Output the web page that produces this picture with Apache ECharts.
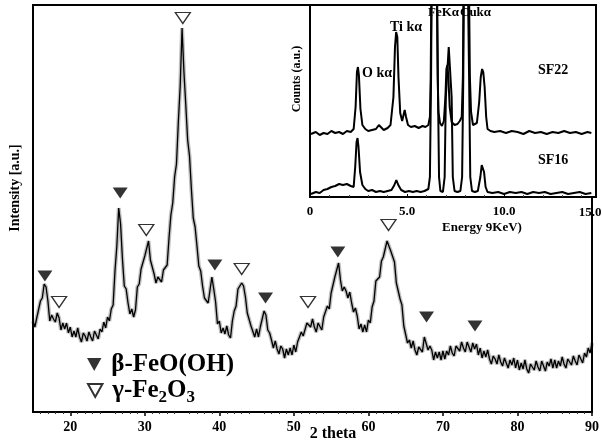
<!DOCTYPE html>
<html>
<head>
<meta charset="utf-8">
<script src="https://cdn.jsdelivr.net/npm/echarts@6/dist/echarts.min.js"></script>
<style>html,body{margin:0;padding:0;background:#fff}#c{width:602px;height:443px}</style>
</head>
<body>
<div id="c"></div>
<script>
// ---- Main XRD pattern (2 theta scan, 0.25 deg step starting at 15 deg) ----
const twoThetaStart = 15;
const twoThetaStep = 0.25;
const xrdIntensity = [
91,85,94,95,111,114,128,125,111,91,97,93,90,99,94,82,89,83,89,79,
85,75,81,75,84,75,70,79,76,71,80,75,71,81,79,73,83,80,90,84,
95,91,103,107,141,166,204,188,153,126,123,109,98,103,95,102,125,128,143,141,
156,155,171,152,151,138,129,135,134,130,142,142,147,174,197,209,235,248,290,326,
384,340,307,272,256,223,194,185,166,146,141,126,114,116,109,109,135,123,110,88,
91,79,84,78,86,77,74,91,101,106,123,123,129,126,115,99,100,86,86,75,
83,75,85,85,101,97,82,79,72,64,71,63,58,66,63,54,63,57,64,57,
67,60,70,68,80,76,76,89,89,85,93,85,80,89,87,82,95,94,106,103,
119,119,135,142,149,132,121,125,121,114,120,109,100,104,96,83,88,80,87,80,
92,89,105,111,131,131,135,151,155,156,171,173,161,162,150,129,128,113,107,86,
84,69,72,64,71,62,57,65,63,60,75,76,62,66,62,52,60,54,60,52,
61,53,61,57,66,59,56,66,65,61,70,64,60,70,68,60,69,63,68,57,
64,54,61,55,62,53,48,56,53,48,57,50,46,54,52,44,52,47,54,44,
52,42,49,43,52,43,39,48,46,42,51,45,41,51,49,41,50,46,53,44,
52,44,51,46,55,48,44,53,52,47,56,51,47,57,56,49,59,55,64,59,
69
];
const xTickLabels = [20, 30, 40, 50, 60, 70, 80, 90];

// Peak markers
const betaPeaks2Theta = [16.6, 26.7, 39.4, 46.2, 55.9, 67.8, 74.3];
const betaMarkerY     = [136, 219, 147, 114, 160, 95, 86];
const gammaPeaks2Theta = [18.5, 30.2, 35.1, 43.0, 51.9, 62.7];
const gammaMarkerY     = [110, 182, 394, 143, 110, 187];

// ---- Inset EDX spectra ----
const sf22Energy = [0.05,0.3,0.5,0.7,0.9,1.1,1.3,1.5,1.7,1.9,2.1,2.25,2.35,2.42,2.47,2.52,2.6,2.7,2.85,3.0,3.2,3.4,3.55,3.65,3.8,4.0,4.15,4.3,4.38,4.44,4.5,4.56,4.65,4.75,4.88,4.95,5.05,5.2,5.4,5.6,5.8,5.95,6.1,6.18,6.22,6.3,6.4,6.5,6.58,6.62,6.7,6.8,6.9,6.98,7.03,7.08,7.13,7.2,7.3,7.45,7.6,7.72,7.82,7.88,7.95,8.05,8.15,8.24,8.3,8.4,8.5,8.6,8.72,8.8,8.87,8.93,9.0,9.08,9.15,9.3,9.5,9.8,10.1,10.4,10.7,11.0,11.3,11.6,11.9,12.2,12.5,12.8,13.1,13.4,13.7,14.0,14.3,14.5];
const sf22Counts = [63,65,62,64,63,66,64,65,63,66,65,68,90,125,130,122,88,72,68,66,67,68,72,70,67,69,72,100,150,165,160,120,84,76,87,80,72,70,71,69,71,70,72,80,120,300,420,300,120,85,74,71,76,100,128,132,120,90,75,72,73,76,80,120,300,420,300,120,85,72,70,74,95,120,128,125,110,80,68,66,65,66,64,66,65,63,66,64,65,63,65,64,66,64,65,63,65,64];
const sf16Energy = [0.05,0.3,0.5,0.7,0.9,1.1,1.3,1.5,1.7,1.9,2.1,2.25,2.33,2.4,2.45,2.5,2.58,2.7,2.85,3.0,3.2,3.4,3.6,3.8,4.0,4.2,4.35,4.45,4.55,4.7,4.9,5.1,5.3,5.5,5.7,5.9,6.1,6.18,6.24,6.3,6.4,6.5,6.6,6.65,6.72,6.85,6.94,7.0,7.15,7.3,7.36,7.45,7.6,7.75,7.84,7.9,8.0,8.1,8.2,8.26,8.35,8.5,8.65,8.78,8.85,8.9,8.97,9.05,9.15,9.4,9.7,10.0,10.3,10.6,10.9,11.2,11.5,11.8,12.1,12.4,12.7,13.0,13.3,13.6,13.9,14.2,14.5];
const sf16Counts = [3,5,4,7,8,10,11,13,12,13,11,10,30,55,59,50,25,12,8,6,7,5,6,5,6,7,12,17,12,7,5,6,5,6,5,6,8,20,120,300,420,300,100,20,6,5,20,100,150,100,20,6,5,6,20,120,420,420,120,20,6,5,6,20,32,34,25,10,5,4,5,3,5,4,5,3,5,4,5,3,4,5,3,4,5,3,4];
const insetTickLabels = [0, 5, 10];

const SERIF = "'Liberation Serif','DejaVu Serif',serif";
const xrdData = xrdIntensity.map((v, i) => [twoThetaStart + i * twoThetaStep, v]);
const zip = (a, b) => a.map((x, i) => [x, b[i]]);
const DOWN_TRI = 'path://M0,0L10,0L5,9Z';

const chart = echarts.init(document.getElementById('c'), null, {renderer: 'canvas'});
chart.setOption({
  animation: false,
  backgroundColor: '#fff',
  grid: [
    {left: 33, right: 6, top: 5, bottom: 31, show: true, borderColor: '#000', borderWidth: 2, backgroundColor: 'transparent'},
    {left: 310, right: 6, top: 5, bottom: 246, show: true, borderColor: '#000', borderWidth: 2, backgroundColor: '#fff', z: 5}
  ],
  xAxis: [
    {gridIndex: 0, type: 'value', min: 15, max: 90, interval: 10,
     axisLine: {show: true, lineStyle: {color: '#000', width: 2}},
     axisTick: {show: true, length: 4, lineStyle: {color: '#000', width: 1.5},
       customValues: xTickLabels},
     minorTick: {show: true, splitNumber: 10, length: 2, lineStyle: {color: '#333'}},
     axisLabel: {color: '#000', fontFamily: SERIF, fontWeight: 'bold', fontSize: 14, margin: 8,
       customValues: xTickLabels},
     splitLine: {show: false}},
    {gridIndex: 1, type: 'value', min: 0, max: 14.74, interval: 5, z: 6,
     axisLine: {show: true, lineStyle: {color: '#000', width: 2}},
     axisTick: {show: true, inside: true, length: 3, lineStyle: {color: '#000'},
       customValues: insetTickLabels},
     minorTick: {show: true, splitNumber: 5, length: 2, lineStyle: {color: '#444'}},
     axisLabel: {color: '#000', fontFamily: SERIF, fontWeight: 'bold', fontSize: 13, margin: 8,
       customValues: insetTickLabels,
       formatter: v => v === 0 ? '0' : v.toFixed(1)},
     splitLine: {show: false}}
  ],
  yAxis: [
    {gridIndex: 0, type: 'value', min: 0, max: 407,
     axisLine: {show: true, lineStyle: {color: '#000', width: 2}},
     axisTick: {show: false}, axisLabel: {show: false}, splitLine: {show: false}},
    {gridIndex: 1, type: 'value', min: 0, max: 192, z: 6,
     axisLine: {show: true, lineStyle: {color: '#000', width: 2}},
     axisTick: {show: false}, axisLabel: {show: false}, splitLine: {show: false}}
  ],
  legend: [
    {data: [{name: 'β-FeO(OH)', icon: DOWN_TRI}], left: 82, top: 347, orient: 'vertical',
     itemWidth: 16, itemHeight: 13, selectedMode: false,
     textStyle: {color: '#000', fontFamily: SERIF, fontWeight: 'bold', fontSize: 25, padding: [0,0,0,4]}},
    {data: [{name: 'γ-Fe2O3', icon: DOWN_TRI}], left: 82, top: 373, orient: 'vertical',
     itemWidth: 16, itemHeight: 13, selectedMode: false,
     formatter: () => '{a|γ-Fe}{s|2}{a|O}{s|3}',
     textStyle: {color: '#000', padding: [0,0,0,4],
       rich: {a: {fontFamily: SERIF, fontWeight: 'bold', fontSize: 25, color: '#000'},
              s: {fontFamily: SERIF, fontWeight: 'bold', fontSize: 17, color: '#000', padding: [14,0,0,0]}}}}
  ],
  series: [
    {type: 'line', xAxisIndex: 0, yAxisIndex: 0, data: xrdData, showSymbol: false, symbol: 'none',
     lineStyle: {color: 'rgba(0,0,0,0.25)', width: 4}, z: 1, silent: true},
    {type: 'line', xAxisIndex: 0, yAxisIndex: 0, data: xrdData, showSymbol: false, symbol: 'none',
     lineStyle: {color: '#000', width: 1.3}, z: 2},
    {name: 'β-FeO(OH)', type: 'scatter', xAxisIndex: 0, yAxisIndex: 0,
     data: zip(betaPeaks2Theta, betaMarkerY), symbol: DOWN_TRI, symbolSize: [15, 11],
     itemStyle: {color: '#000'}, z: 3},
    {name: 'γ-Fe2O3', type: 'scatter', xAxisIndex: 0, yAxisIndex: 0,
     data: zip(gammaPeaks2Theta, gammaMarkerY), symbol: DOWN_TRI, symbolSize: [15, 11],
     itemStyle: {color: '#fff', borderColor: '#000', borderWidth: 1.3}, z: 3},
    {name: 'SF22', type: 'line', xAxisIndex: 1, yAxisIndex: 1, data: zip(sf22Energy, sf22Counts),
     showSymbol: false, symbol: 'none', clip: true, lineStyle: {color: '#000', width: 2}, z: 7},
    {name: 'SF16', type: 'line', xAxisIndex: 1, yAxisIndex: 1, data: zip(sf16Energy, sf16Counts),
     showSymbol: false, symbol: 'none', clip: true, lineStyle: {color: '#000', width: 2}, z: 7}
  ],
  graphic: [
    {type: 'text', x: 15, y: 188, rotation: Math.PI / 2,
     style: {text: 'Intensity [a.u.]', font: 'bold 14px ' + SERIF, fill: '#000', align: 'center', verticalAlign: 'middle'}},
    {type: 'text', x: 333, y: 434,
     style: {text: '2 theta', font: 'bold 16px ' + SERIF, fill: '#000', align: 'center', verticalAlign: 'middle'}},
    {type: 'text', x: 482, y: 228, z: 10,
     style: {text: 'Energy 9KeV)', font: 'bold 13px ' + SERIF, fill: '#000', align: 'center', verticalAlign: 'middle'}},
    {type: 'text', x: 297, y: 79, rotation: Math.PI / 2, z: 10,
     style: {text: 'Counts (a.u.)', font: 'bold 12px ' + SERIF, fill: '#000', align: 'center', verticalAlign: 'middle'}},
    {type: 'text', x: 590, y: 213, z: 10,
     style: {text: '15.0', font: 'bold 13px ' + SERIF, fill: '#000', align: 'center', verticalAlign: 'middle'}},
    {type: 'text', x: 362, y: 73, z: 10,
     style: {text: 'O kα', font: 'bold 14px ' + SERIF, fill: '#000', align: 'left', verticalAlign: 'middle'}},
    {type: 'text', x: 390, y: 27, z: 10,
     style: {text: 'Ti kα', font: 'bold 14px ' + SERIF, fill: '#000', align: 'left', verticalAlign: 'middle'}},
    {type: 'text', x: 428, y: 13, z: 10,
     style: {text: 'FeKα', font: 'bold 13px ' + SERIF, fill: '#000', align: 'left', verticalAlign: 'middle'}},
    {type: 'text', x: 460, y: 13, z: 10,
     style: {text: 'Cukα', font: 'bold 13px ' + SERIF, fill: '#000', align: 'left', verticalAlign: 'middle'}},
    {type: 'text', x: 538, y: 70, z: 10,
     style: {text: 'SF22', font: 'bold 14px ' + SERIF, fill: '#000', align: 'left', verticalAlign: 'middle'}},
    {type: 'text', x: 538, y: 160, z: 10,
     style: {text: 'SF16', font: 'bold 14px ' + SERIF, fill: '#000', align: 'left', verticalAlign: 'middle'}}
  ]
});
</script>
</body>
</html>
